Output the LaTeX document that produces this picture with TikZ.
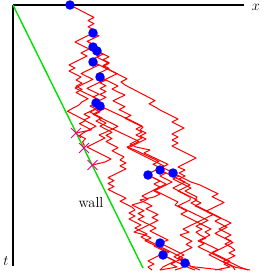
\documentclass[tikz,border=0pt]{standalone}
\usetikzlibrary{shapes.misc}
\definecolor{wallgreen}{RGB}{0,225,0}
\tikzset{
  axis/.style={line width=2pt, black},
  wallline/.style={line width=1.4pt, wallgreen},
  walk/.style={red, line width=1pt, line join=round},
  branch/.style={circle, fill=blue, inner sep=0pt, minimum size=9.5pt},
  killed/.style={cross out, draw=magenta, line width=0.9pt, minimum size=9pt, inner sep=0pt},
  lbl/.style={font=\fontsize{13.5}{15}\selectfont, inner sep=0pt},
  walllbl/.style={font=\fontsize{14.5}{16}\selectfont, inner sep=0pt}
}
\newcommand\rwseg[4]{%
  \pgfmathtruncatemacro\rwn{max(1,round((#4-(#2))/3))}%
  \xdef\rwx{#1}%
  \xdef\rwpath{(#1,#2)}%
  \foreach \k in {1,...,\rwn}{%
    \pgfmathsetmacro\rwrem{\rwn-\k+1}%
    \pgfmathsetmacro\rwny{#2+(#4-(#2))*\k/\rwn}%
    \ifnum\k=\rwn\relax
      \xdef\rwx{#3}%
    \else
      \pgfmathsetmacro\rwp{max(0,min(1,0.5+((#3)-\rwx)/(\rwrem*12)))}%
      \pgfmathsetmacro\rwnx{\rwx+ifthenelse(rnd<\rwp,6,-6)}%
      \pgfmathsetmacro\rwnx{max(\rwnx,15+0.494*(\rwny-5))}%
      \xdef\rwx{\rwnx}%
    \fi
    \xdef\rwpath{\rwpath -- (\rwx,\rwny)}%
  }%
  \edef\rwdo{\noexpand\draw[walk] \rwpath;}\rwdo
}
\begin{document}
\begin{tikzpicture}[x=1pt,y=-1pt]
\useasboundingbox (0,0) rectangle (269,273);
\pgfmathsetseed{2718}
% root
\rwseg{70}{5}{93}{33}
% b1, b2
\rwseg{93}{33}{93}{47}
\rwseg{93}{33}{97}{51}
% c1, c2
\rwseg{93}{47}{93}{62}
\rwseg{93}{47}{76}{80}\rwseg{76}{80}{79}{105}\rwseg{79}{105}{76}{133}
% d1, d2
\rwseg{97}{51}{100}{77}
\rwseg{97}{51}{125}{85}\rwseg{125}{85}{160}{110}\rwseg{160}{110}{172}{140}\rwseg{172}{140}{185}{170}\rwseg{185}{170}{215}{215}\rwseg{215}{215}{235}{270}
% e1, e2
\rwseg{93}{62}{75}{88}\rwseg{75}{88}{100}{120}\rwseg{100}{120}{120}{160}\rwseg{120}{160}{135}{210}\rwseg{135}{210}{160}{270}
\rwseg{93}{62}{96}{103}
% f1, f2
\rwseg{100}{77}{100}{106}
\rwseg{100}{77}{125}{95}\rwseg{125}{95}{140}{130}\rwseg{140}{130}{148}{175}
% g1, g2
\rwseg{96}{103}{84}{120}\rwseg{84}{120}{84}{148}
\rwseg{96}{103}{115}{130}\rwseg{115}{130}{135}{150}\rwseg{135}{150}{160}{170}
% h1, h2
\rwseg{100}{106}{99}{135}\rwseg{99}{135}{92.5}{165}
\rwseg{100}{106}{130}{120}\rwseg{130}{120}{150}{150}\rwseg{150}{150}{173}{173}
% i1, i2
\rwseg{148}{175}{132}{205}\rwseg{132}{205}{150}{225}\rwseg{150}{225}{160}{243}
\rwseg{148}{175}{175}{205}\rwseg{175}{205}{210}{235}\rwseg{210}{235}{248}{270}
% j1, j2
\rwseg{160}{170}{140}{200}\rwseg{140}{200}{145}{235}\rwseg{145}{235}{163}{255}
\rwseg{160}{170}{190}{200}\rwseg{190}{200}{200}{235}\rwseg{200}{235}{215}{270}
% k1, k2
\rwseg{173}{173}{195}{200}\rwseg{195}{200}{180}{235}\rwseg{180}{235}{185}{263}
\rwseg{173}{173}{200}{185}\rwseg{200}{185}{225}{220}\rwseg{225}{220}{235}{250}\rwseg{235}{250}{250}{270}
% l, m, n children
\rwseg{160}{243}{152}{270}\rwseg{160}{243}{175}{270}
\rwseg{163}{255}{160}{270}\rwseg{163}{255}{195}{270}
\rwseg{185}{263}{200}{270}\rwseg{185}{263}{222}{270}
% axes and wall
\coordinate (O) at (13,5);
\coordinate (xend) at (244,5);
\coordinate (tend) at (13,266);
\coordinate (wallend) at (143,268);
\draw[axis] (O) -- (xend);
\draw[axis] (O) -- (tend);
\draw[wallline] (O) -- (wallend);
\node[lbl] (xl) at (256,7) {$x$};
\node[lbl] (tl) at (6,261) {$t$};
\node[walllbl] (wl) at (91,203) {wall};
% killed particles
\node[killed] (X1) at (76,133) {};
\node[killed] (X2) at (84,148) {};
\node[killed] (X3) at (92.5,165) {};
% branching points
\node[branch] (A) at (70,5) {};
\node[branch] (B) at (93,33) {};
\node[branch] (C) at (93,47) {};
\node[branch] (D) at (97,51) {};
\node[branch] (E) at (93,62) {};
\node[branch] (F) at (100,77) {};
\node[branch] (G) at (96,103) {};
\node[branch] (H) at (100,106) {};
\node[branch] (I) at (148,175) {};
\node[branch] (J) at (160,170) {};
\node[branch] (K) at (173,173) {};
\node[branch] (L) at (160,243) {};
\node[branch] (M) at (163,255) {};
\node[branch] (N) at (185,263) {};
\end{tikzpicture}
\end{document}
